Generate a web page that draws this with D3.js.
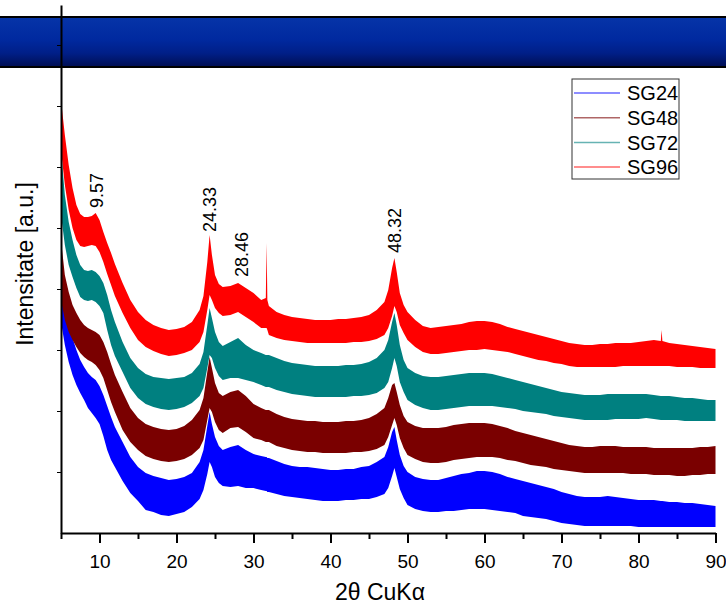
<!DOCTYPE html>
<html>
<head>
<meta charset="utf-8">
<script src="https://cdn.jsdelivr.net/npm/d3@7"></script>
<style>
body { margin: 0; background: #fff; }
text { font-family: "Liberation Sans", Arial, sans-serif; fill: #000; }
</style>
</head>
<body>
<script>
// 2theta positions (deg) where the pattern bands were read
var twoTheta = [5,5.5,6,6.5,7,7.5,8,8.5,9,9.5,10,10.5,11,11.5,12,
  13,14,15,16,17,18,19,20,21,22,23,
  23.5,24,24.3,24.6,25,25.5,26,
  27,28,29,30,31,
  31.6,31.7,31.8,32,
  33,34,35,36,37,38,39,40,41,42,43,44,45,46,47,
  47.5,48,48.3,48.6,49,49.5,50,
  51,52,53,54,55,56,57,58,59,60,
  61,62,63,64,65,66,67,68,69,70,
  71,72,73,74,75,76,77,78,79,80,
  81,82,82.9,83,83.1,84,85,86,87,88,89,90];

// upper / lower edge of each noisy pattern (a.u.)
var sg24Hi = [255,233,213,195,183,173,166,160,156,153,147,138,127,116,106,
  91,76,66,60,57,55,53,54,56,60,71,
  83,107,121,109,96,87,83,
  86,88,83,79,77,
  76,76,75,75,
  72,69,67,66,66,65,64,63,63,64,64,66,67,71,76,
  86,101,106,93,78,67,61,
  56,54,53,53,55,57,59,60,62,62,
  61,59,56,54,52,50,48,46,44,41,
  39,37,36,36,36,37,36,35,34,33,
  33,33,32,32,32,31,31,30,30,29,28,27];
var sg24Lo = [211,188,171,158,148,140,133,125,120,115,109,97,83,73,66,
  52,40,32,23,21,18,17,19,21,26,34,
  43,59,71,66,56,50,47,
  46,47,45,45,43,
  42,42,41,41,
  39,37,36,35,34,33,32,32,32,33,33,34,34,36,39,
  45,57,65,56,44,35,28,
  24,22,21,21,22,22,23,24,24,24,
  23,22,21,20,17,16,15,14,12,10,
  9,8,7,7,7,7,7,7,7,6,
  6,6,6,6,6,6,6,6,6,6,6,6];

var sg48Hi = [293,258,241,228,220,213,208,205,203,201,198,191,181,169,158,
  141,125,115,109,106,104,103,104,107,113,123,
  135,161,176,165,150,140,137,
  141,143,137,129,125,
  123,123,123,123,
  119,116,114,113,112,112,111,111,111,112,112,113,115,119,125,
  135,148,150,141,128,117,111,
  107,105,105,105,106,108,109,110,110,110,
  109,107,105,102,100,98,96,94,92,90,
  88,87,86,86,87,87,87,86,86,86,
  86,85,85,85,85,85,85,85,85,86,86,87];
var sg48Lo = [233,213,201,193,186,180,176,173,171,168,163,155,143,131,121,
  103,91,83,77,74,72,71,72,74,78,85,
  93,113,125,121,111,103,100,
  105,106,101,95,93,
  91,91,91,91,
  87,85,83,82,81,81,80,80,80,80,81,81,82,84,88,
  96,108,115,108,95,85,78,
  74,71,70,70,71,73,74,75,76,76,
  76,75,73,72,70,68,67,66,64,63,
  62,61,60,60,60,60,60,60,59,59,
  59,58,58,58,58,58,57,57,58,58,59,59];

var sg72Hi = [383,338,311,293,278,268,263,262,263,261,257,250,238,223,211,
  191,175,165,159,156,155,154,155,156,160,169,
  181,208,225,215,201,191,187,
  191,195,188,183,180,
  178,178,178,178,
  175,172,170,169,168,167,167,167,167,168,168,169,171,175,183,
  193,211,220,208,188,173,165,
  160,157,156,156,157,158,159,160,160,160,
  159,157,155,153,151,149,147,145,143,141,
  140,139,138,138,138,139,139,139,139,139,
  139,138,137,137,137,137,136,135,135,134,133,133];
var sg72Lo = [318,288,268,256,245,236,233,232,233,231,227,220,203,188,177,
  161,145,135,129,126,124,123,124,126,130,137,
  145,165,178,175,165,157,153,
  155,155,153,151,148,
  146,146,146,146,
  143,141,139,138,137,136,136,136,136,136,137,137,138,140,145,
  151,165,175,167,151,141,133,
  128,125,123,123,124,125,126,127,127,127,
  127,126,125,124,122,121,120,119,117,116,
  115,114,113,113,113,113,114,114,114,114,
  115,114,113,113,113,113,113,112,112,112,112,112];

var sg96Hi = [433,398,368,345,328,319,316,316,317,320,313,301,290,280,269,
  250,233,221,213,208,205,203,204,206,211,223,
  237,271,298,278,258,249,246,
  247,250,245,240,233,
  235,290,233,227,
  221,218,216,215,214,213,213,213,214,214,215,216,218,223,231,
  243,265,275,261,240,228,221,
  213,207,205,206,207,208,209,211,212,212,
  211,209,206,204,202,200,198,196,194,192,
  190,189,188,188,189,189,190,190,190,191,
  192,193,192,203,192,190,189,188,187,186,185,184];
var sg96Lo = [383,348,323,305,293,287,286,287,288,287,281,271,259,248,237,
  220,205,193,186,182,179,177,178,180,183,191,
  201,223,238,233,225,220,217,
  218,221,216,211,205,
  205,205,203,198,
  195,193,192,191,190,190,190,190,190,190,191,191,192,194,198,
  205,217,227,221,208,200,193,
  186,181,179,179,180,181,182,183,183,184,
  183,182,181,179,177,175,173,172,170,169,
  167,166,166,166,166,166,166,167,167,167,
  167,167,167,167,167,167,166,166,166,165,165,165];

var seriesNames = ["SG24", "SG48", "SG72", "SG96"];
var seriesColors = ["#0000ff", "#7a0000", "#008080", "#ff0000"];

var peakPos = [9.57, 24.33, 28.46, 48.32];
var peakLabels = ["9.57", "24.33", "28.46", "48.32"];
var peakLabelAt = [325, 301, 256, 280];

var xTicks = [10, 20, 30, 40, 50, 60, 70, 80, 90];
var xMinorTicks = [5, 15, 25, 35, 45, 55, 65, 75, 85];
var yTicks = [61, 122, 183, 244, 305, 366, 427, 488];

var width = 726, height = 606;

var svg = d3.select("body").append("svg")
  .attr("width", width)
  .attr("height", height);

var x = d3.scaleLinear().domain([5, 90]).range([61, 715.5]);
var y = d3.scaleLinear().domain([0, 528]).range([533, 5]);

// header bar
var defs = svg.append("defs");
var grad = defs.append("linearGradient")
  .attr("id", "barGrad")
  .attr("x1", 0).attr("y1", 0).attr("x2", 0).attr("y2", 1);
grad.append("stop").attr("offset", "0%").attr("stop-color", "#0634a8");
grad.append("stop").attr("offset", "45%").attr("stop-color", "#00299f");
grad.append("stop").attr("offset", "72%").attr("stop-color", "#001f88");
grad.append("stop").attr("offset", "100%").attr("stop-color", "#000e52");

svg.append("rect")
  .attr("x", -2).attr("y", 17)
  .attr("width", width + 4).attr("height", 50)
  .attr("fill", "url(#barGrad)")
  .attr("stroke", "#000")
  .attr("stroke-width", 2);

var series = seriesNames.map(function(name, i) {
  var hi = [sg24Hi, sg48Hi, sg72Hi, sg96Hi][i];
  var lo = [sg24Lo, sg48Lo, sg72Lo, sg96Lo][i];
  return {
    name: name,
    color: seriesColors[i],
    values: twoTheta.map(function(t, j) { return {t: t, hi: hi[j], lo: lo[j]}; })
  };
});

var band = d3.area()
  .x(function(d) { return x(d.t); })
  .y0(function(d) { return y(d.lo); })
  .y1(function(d) { return y(d.hi); });

svg.selectAll("path.pattern")
  .data(series)
  .enter().append("path")
  .attr("class", "pattern")
  .attr("d", function(d) { return band(d.values); })
  .attr("fill", function(d) { return d.color; });

// axes
var xAxis = svg.append("g")
  .attr("transform", "translate(0," + y(0) + ")")
  .call(d3.axisBottom(x).tickValues(xTicks).tickSize(10).tickSizeOuter(0).tickPadding(12));
xAxis.select(".domain").attr("stroke-width", 2);
xAxis.selectAll(".tick line").attr("stroke-width", 2);
xAxis.selectAll("text").style("font-size", "19px").attr("font-family", null);

var xMinor = svg.append("g")
  .attr("transform", "translate(0," + y(0) + ")")
  .call(d3.axisBottom(x).tickValues(xMinorTicks).tickSize(6).tickFormat(""));
xMinor.select(".domain").remove();
xMinor.selectAll(".tick line").attr("stroke-width", 2);

var yAxis = svg.append("g")
  .attr("transform", "translate(" + x(5) + ",0)")
  .call(d3.axisLeft(y).tickValues(yTicks).tickSize(4).tickSizeOuter(0).tickFormat(""));
yAxis.select(".domain").attr("stroke-width", 2);
yAxis.selectAll(".tick line").attr("stroke-width", 1);

// axis titles
svg.append("text")
  .attr("x", 380).attr("y", 600)
  .attr("text-anchor", "middle")
  .style("font-size", "23px")
  .text("2\u03b8 CuK\u03b1");

svg.append("text")
  .attr("transform", "translate(33,264) rotate(-90)")
  .attr("text-anchor", "middle")
  .style("font-size", "23px")
  .text("Intensitate [a.u.]");

// peak labels
svg.selectAll("text.peak")
  .data(peakPos)
  .enter().append("text")
  .attr("class", "peak")
  .attr("transform", function(d, i) {
    return "translate(" + x(d) + "," + y(peakLabelAt[i]) + ") rotate(-90)";
  })
  .attr("dy", "0.35em")
  .style("font-size", "18px")
  .text(function(d, i) { return peakLabels[i]; });

// legend
var legend = svg.append("g").attr("transform", "translate(572,79)");
legend.append("rect")
  .attr("width", 107).attr("height", 100)
  .attr("fill", "#fff")
  .attr("stroke", "#333")
  .attr("stroke-width", 1);

var rows = legend.selectAll("g.row")
  .data(series)
  .enter().append("g")
  .attr("class", "row")
  .attr("transform", function(d, i) { return "translate(0," + (14 + i * 24.7) + ")"; });
rows.append("line")
  .attr("x1", 2).attr("x2", 48)
  .attr("stroke", function(d) { return d.color; })
  .attr("stroke-opacity", 0.6)
  .attr("stroke-width", 1.5);
rows.append("text")
  .attr("x", 55).attr("dy", "0.36em")
  .style("font-size", "20px")
  .text(function(d) { return d.name; });
</script>
</body>
</html>
